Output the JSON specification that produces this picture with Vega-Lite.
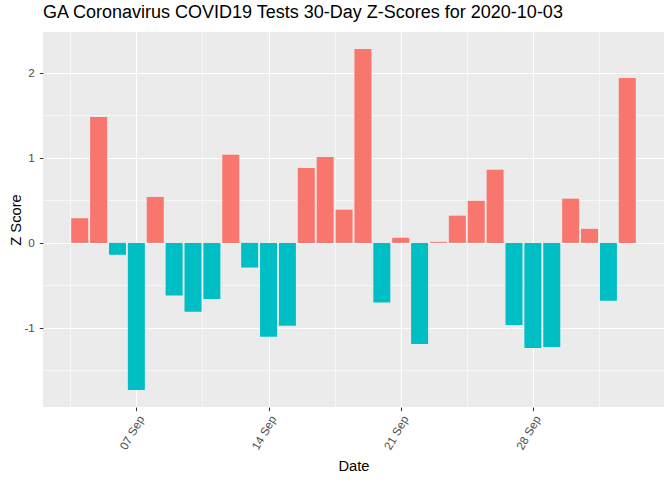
{
  "$schema": "https://vega.github.io/schema/vega-lite/v6.json",
  "width": 621,
  "height": 375,
  "autosize": {"type": "none"},
  "padding": {"left": 43, "top": 32, "right": 8, "bottom": 73},
  "background": "white",
  "title": {
    "text": "GA Coronavirus COVID19 Tests 30-Day Z-Scores for 2020-10-03",
    "anchor": "start",
    "frame": "group",
    "font": "Liberation Sans",
    "fontSize": 18,
    "fontWeight": "normal",
    "color": "black",
    "offset": 10
  },
  "config": {
    "view": {"fill": "#EBEBEB", "stroke": null},
    "axis": {
      "domain": false,
      "labelFont": "Liberation Sans",
      "labelFontSize": 11.7,
      "labelColor": "#4D4D4D",
      "titleFont": "Liberation Sans",
      "titleFontSize": 14.7,
      "titleFontWeight": "normal",
      "titleColor": "black",
      "tickColor": "#333333",
      "tickSize": 3.7,
      "tickWidth": 1,
      "gridColor": "white"
    }
  },
  "data": {
    "values": [
      {"date": "2020-09-04", "z": 0.29},
      {"date": "2020-09-05", "z": 1.48},
      {"date": "2020-09-06", "z": -0.14},
      {"date": "2020-09-07", "z": -1.73},
      {"date": "2020-09-08", "z": 0.54},
      {"date": "2020-09-09", "z": -0.62},
      {"date": "2020-09-10", "z": -0.81},
      {"date": "2020-09-11", "z": -0.66},
      {"date": "2020-09-12", "z": 1.035},
      {"date": "2020-09-13", "z": -0.29},
      {"date": "2020-09-14", "z": -1.105},
      {"date": "2020-09-15", "z": -0.975},
      {"date": "2020-09-16", "z": 0.88},
      {"date": "2020-09-17", "z": 1.01},
      {"date": "2020-09-18", "z": 0.39},
      {"date": "2020-09-19", "z": 2.28},
      {"date": "2020-09-20", "z": -0.70},
      {"date": "2020-09-21", "z": 0.06},
      {"date": "2020-09-22", "z": -1.19},
      {"date": "2020-09-23", "z": 0.012},
      {"date": "2020-09-24", "z": 0.32},
      {"date": "2020-09-25", "z": 0.495},
      {"date": "2020-09-26", "z": 0.86},
      {"date": "2020-09-27", "z": -0.965},
      {"date": "2020-09-28", "z": -1.235},
      {"date": "2020-09-29", "z": -1.225},
      {"date": "2020-09-30", "z": 0.52},
      {"date": "2020-10-01", "z": 0.165},
      {"date": "2020-10-02", "z": -0.68},
      {"date": "2020-10-03", "z": 1.94}
    ]
  },
  "mark": {"type": "bar", "width": 17},
  "encoding": {
    "x": {
      "field": "date",
      "type": "temporal",
      "scale": {"type": "utc", "domain": [1599009552000, 1601851248000], "padding": 0},
      "axis": {
        "title": "Date",
        "titleX": 310.5,
        "titleY": 63,
        "titleBaseline": "alphabetic",
        "titleAlign": "center",
        "values": [1599134400000, 1599436800000, 1599739200000, 1600041600000, 1600344000000, 1600646400000, 1600948800000, 1601251200000, 1601553600000],
        "labelExpr": "utchours(datum.value) === 0 ? utcFormat(datum.value, '%d %b') : ''",
        "labelAngle": -60,
        "labelAlign": "right",
        "labelBaseline": "top",
        "labelPadding": 3,
        "labelOverlap": false,
        "tickOpacity": {"condition": {"test": "utchours(datum.value) === 0", "value": 1}, "value": 0},
        "gridWidth": {"condition": {"test": "utchours(datum.value) === 0", "value": 1.1}, "value": 0.55}
      }
    },
    "y": {
      "field": "z",
      "type": "quantitative",
      "scale": {"domain": [-1.93, 2.48], "nice": false, "padding": 0},
      "axis": {
        "title": "Z Score",
        "titleX": -23,
        "titleY": 187.5,
        "titleAngle": -90,
        "titleAlign": "center",
        "titleBaseline": "alphabetic",
        "values": [-1.5, -1, -0.5, 0, 0.5, 1, 1.5, 2],
        "labelExpr": "datum.value % 1 === 0 ? toString(datum.value) : ''",
        "labelPadding": 5,
        "labelOverlap": false,
        "tickOpacity": {"condition": {"test": "datum.value % 1 === 0", "value": 1}, "value": 0},
        "gridWidth": {"condition": {"test": "datum.value % 1 === 0", "value": 1.1}, "value": 0.55}
      }
    },
    "color": {"condition": {"test": "datum.z >= 0", "value": "#F8766D"}, "value": "#00BFC4"}
  }
}
